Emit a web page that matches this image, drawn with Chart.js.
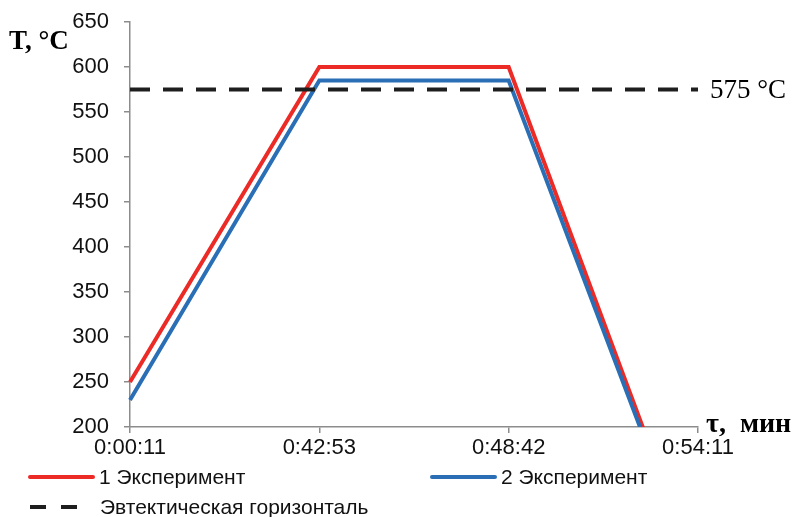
<!DOCTYPE html>
<html>
<head>
<meta charset="utf-8">
<script src="https://cdn.jsdelivr.net/npm/chart.js@4"></script>
<style>
  html, body { margin: 0; padding: 0; background: #fff; }
  #wrap { width: 795px; height: 517px; position: relative; }
</style>
</head>
<body>
<div id="wrap"><canvas id="chart"></canvas></div>
<script>
const timeLabels = ["0:00:11", "0:42:53", "0:48:42", "0:54:11"];
const exp1 = [250, 600, 600, 35];
const exp2 = [230, 585, 585, 30];
const eutectic = [575, 575, 575, 575];
const seriesNames = ["1 Эксперимент", "2 Эксперимент", "Эвтектическая горизонталь"];
const yTicks = { min: 200, max: 650, step: 50 };

const axisColor = "#8c8c8c";
const tickFont = { family: "Liberation Sans, Arial, sans-serif", size: 22 };

const extrasPlugin = {
  id: "extras",
  afterDraw(chart) {
    const ctx = chart.ctx;
    const area = chart.chartArea;
    const y = chart.scales.y;
    ctx.save();
    ctx.fillStyle = "#000";
    ctx.textBaseline = "middle";

    // axis titles
    ctx.font = "bold 27px 'Liberation Serif', 'Times New Roman', serif";
    ctx.textAlign = "left";
    ctx.fillText("T, °C", 9, 42);
    ctx.font = "bold 28px 'Liberation Serif', 'Times New Roman', serif";
    ctx.fillText("τ,  мин", area.right + 8, area.bottom - 2);

    // label for the dashed line
    ctx.font = "27px 'Liberation Serif', 'Times New Roman', serif";
    ctx.fillText("575 °C", area.right + 12, y.getPixelForValue(575) + 1);

    // legend
    const spots = [
      { x: 30, y: 477, len: 63 },
      { x: 432, y: 477, len: 63 },
      { x: 30, y: 507, len: 55 }
    ];
    ctx.font = "21px 'Liberation Sans', Arial, sans-serif";
    chart.data.datasets.forEach((ds, i) => {
      const s = spots[i];
      ctx.beginPath();
      ctx.strokeStyle = ds.borderColor;
      ctx.lineWidth = ds.borderWidth;
      ctx.lineCap = ds.borderDash ? "butt" : "round";
      ctx.setLineDash(ds.borderDash ? [16, 15] : []);
      ctx.moveTo(s.x, s.y);
      ctx.lineTo(s.x + s.len, s.y);
      ctx.stroke();
      ctx.setLineDash([]);
      ctx.fillStyle = "#111";
      ctx.fillText(ds.label, i === 2 ? 100 : s.x + s.len + 6, s.y + 1);
    });
    ctx.restore();
  }
};

new Chart(document.getElementById("chart"), {
  type: "line",
  data: {
    labels: timeLabels,
    datasets: [
      { label: seriesNames[0], data: exp1, borderColor: "#ec2a26", borderWidth: 4, pointRadius: 0, order: 2, tension: 0 },
      { label: seriesNames[1], data: exp2, borderColor: "#2a6fb6", borderWidth: 4, pointRadius: 0, order: 1, tension: 0 },
      { label: seriesNames[2], data: eutectic, borderColor: "#1e1e1e", borderWidth: 4, borderDash: [20, 13], pointRadius: 0, order: 0 }
    ]
  },
  options: {
    responsive: true,
    maintainAspectRatio: false,
    animation: false,
    devicePixelRatio: 1,
    layout: { padding: { top: 22, right: 97, left: 0, bottom: 0 } },
    plugins: {
      legend: { display: false },
      tooltip: { enabled: false }
    },
    scales: {
      x: {
        offset: false,
        grid: { display: true, drawOnChartArea: false, drawTicks: true, tickLength: 6, color: axisColor, lineWidth: 1.5 },
        border: { color: axisColor, width: 1.5 },
        ticks: { color: "#111", font: tickFont, padding: 2, maxRotation: 0, autoSkip: false },
        afterFit: (scale) => { scale.height = 90; scale.paddingLeft = 0; scale.paddingRight = 0; }
      },
      y: {
        min: yTicks.min,
        max: yTicks.max,
        grid: { display: true, drawOnChartArea: false, drawTicks: true, tickLength: 6, color: axisColor, lineWidth: 1.5 },
        border: { color: axisColor, width: 1.5 },
        ticks: { stepSize: yTicks.step, color: "#111", font: tickFont, padding: 15 },
        afterFit: (scale) => { scale.width = 130; scale.paddingTop = 0; scale.paddingBottom = 0; }
      }
    }
  },
  plugins: [extrasPlugin]
});
</script>
</body>
</html>
